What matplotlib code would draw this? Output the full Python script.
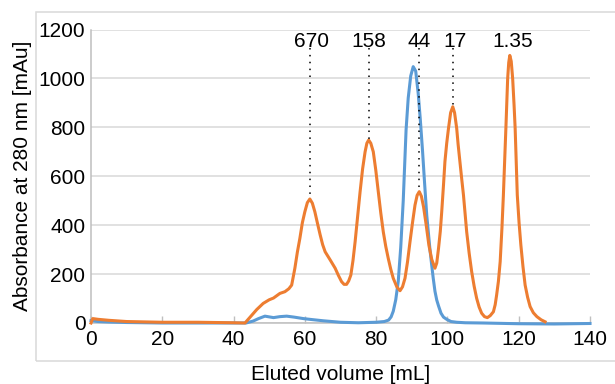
#Import packages
import matplotlib
matplotlib.use('Agg')
import matplotlib.pyplot as plt
from matplotlib.patches import Rectangle

#Chart data
#Sample trace (blue)
sample_vol = [0, 2, 5, 10, 20, 30, 40, 43.5, 45.5, 47, 48.8, 50, 51.2, 53, 54.9, 57, 59.6, 62, 65.2, 70,
	75, 80, 82.3, 83.5, 84.2, 84.8, 85.5, 86.2, 86.9, 87.6, 88.4, 89.0, 89.7, 90.4, 91.1, 91.8, 92.4,
	93.0, 93.6, 94.2, 95.1, 95.6, 96.0, 96.5, 97.0, 97.5, 98.2, 98.9, 99.8, 101, 102.6, 105, 110,
	120, 130, 140]
sample_abs = [10, 6, 4, 2, 0, 0, 0, 0, 8, 18, 28, 25, 22, 26, 28, 24, 18, 14, 9, 3,
	1, 3, 6, 12, 25, 48, 95, 170, 310, 500, 790, 920, 1010, 1048, 1030, 939, 830,
	707, 570, 440, 300, 235, 185, 130, 94, 70, 40, 24, 15, 6, 3, 1, 0,
	-3, -4, -2]

#Standards trace (orange)
std_vol = [0, 0.5, 2, 5, 10, 20, 30, 40, 43.2, 45, 46.5, 48.3, 50, 51.2, 53, 54.4, 55.5, 56.3, 57.2,
	57.9, 58.6, 59.3, 60.0, 60.7, 61.4, 62.1, 62.8, 63.5, 64.3, 65.0, 65.7, 67.1, 68.5, 69.4, 70.3,
	71.0, 71.7, 72.3, 72.9, 73.5, 74.1, 74.8, 75.5, 76.2, 76.9, 77.4, 77.9, 78.5, 79.2, 79.9, 80.6,
	81.3, 82.0, 82.7, 83.4, 84.1, 84.8, 85.8, 86.7, 87.4, 88.1, 88.8, 89.5, 90.2, 90.9, 91.5, 92.1,
	92.7, 93.3, 94.0, 94.8, 95.6, 96.5, 97.0, 97.5, 98.0, 98.4, 98.9, 99.3, 99.8, 100.3, 100.9,
	101.5, 102.0, 102.6, 103.0, 103.5, 104.0, 104.5, 105.0, 105.4, 106.1, 106.8, 107.5, 108.2,
	108.9, 109.6, 110.4, 111.2, 112.0, 112.9, 113.4, 113.8, 114.3, 114.8, 115.3, 115.7, 116.1,
	116.4, 116.9, 117.2, 117.5, 117.9, 118.3, 118.7, 119.0, 119.6, 120.1, 120.6, 121.2, 121.8,
	122.5, 123.2, 124.1, 125.1, 126.3, 127.4]
std_abs = [0, 18, 15, 11, 6, 3, 3, 1, 0, 30, 55, 80, 95, 102, 121, 128, 140, 155, 224,
	290, 346, 410, 455, 492, 507, 490, 455, 410, 360, 320, 291, 258, 224, 195, 169,
	158, 158, 172, 196, 255, 332, 435, 537, 630, 700, 735, 748, 735, 700, 625, 537,
	450, 373, 313, 264, 220, 183, 148, 132, 148, 183, 250, 332, 410, 482, 522, 537,
	518, 475, 405, 318, 260, 224, 245, 305, 375, 455, 565, 660, 735, 796, 860,
	884, 860, 796, 730, 660, 590, 523, 440, 373, 285, 210, 150, 101,
	65, 40, 26, 22, 30, 46, 75, 114, 170, 251, 390, 523, 680,
	796, 1000, 1065, 1094, 1070, 1000, 890, 796, 523, 410, 319, 230, 155,
	105, 67, 42, 26, 13, 5]

#Molecular weight markers [kDa]
marker_labels = ['670', '158', '44', '17', '1.35']
marker_vol = [61.4, 78.0, 91.9, 101.6, 117.5]
marker_peak = [507, 748, 537, 884, None]
label_vol = [61.9, 77.9, 92.0, 102.0, 118.4]

xticks = [0, 20, 40, 60, 80, 100, 120, 140]
yticks = [0, 200, 400, 600, 800, 1000, 1200]

#Main script
def main():

	plt.rcParams['font.family'] = ['Liberation Sans', 'DejaVu Sans']
	plt.rcParams['font.size'] = 15

	fig = plt.figure(figsize=(6.15, 3.84), dpi=100)
	ax = fig.add_axes([91/615, 1-323/384, 499/615, 293.5/384])

	#Light chart frame (right side runs off the picture)
	frame = Rectangle((36/615, 1-361/384), 1.0, 349/384, transform=fig.transFigure,
		fill=False, edgecolor='#D9D9D9', linewidth=1.1, zorder=0)
	fig.patches.append(frame)

	#Traces
	ax.plot(sample_vol, sample_abs, color='#5B9BD5', linewidth=2.2, clip_on=False, zorder=3)
	ax.plot(std_vol, std_abs, color='#ED7D31', linewidth=2.2, clip_on=False, zorder=4)

	#Marker labels and dotted guides
	for i in range(len(marker_labels)):
		ax.text(label_vol[i], 1130, marker_labels[i], ha='center', va='baseline', fontsize=15)
		if marker_peak[i] is not None:
			ax.plot([marker_vol[i], marker_vol[i]], [1124, marker_peak[i]], color='black',
				linewidth=1.1, linestyle=(0, (1, 3.5)), zorder=5)

	#Axes
	ax.set_xlim(0, 140)
	ax.set_ylim(0, 1200)
	ax.set_xticks(xticks)
	ax.set_yticks(yticks)
	ax.yaxis.grid(True, color='#D9D9D9', linewidth=1.1)
	ax.set_axisbelow(True)
	for side in ['top', 'right']:
		ax.spines[side].set_visible(False)
	for side in ['left', 'bottom']:
		ax.spines[side].set_color('#BFBFBF')
		ax.spines[side].set_linewidth(1.1)
	ax.tick_params(axis='x', direction='in', length=5, width=1, color='#BFBFBF', pad=5, labelsize=15)
	ax.tick_params(axis='y', length=0, pad=4, labelsize=15)

	ax.set_xlabel('Eluted volume [mL]', fontsize=15)
	ax.set_ylabel('Absorbance at 280 nm [mAu]', fontsize=15)
	ax.xaxis.set_label_coords(0.5, -0.143)
	ax.yaxis.set_label_coords(-0.119, 0.5)

	plt.savefig('out.png', dpi=100)

#Execute main script
if __name__ == '__main__':
	main()
